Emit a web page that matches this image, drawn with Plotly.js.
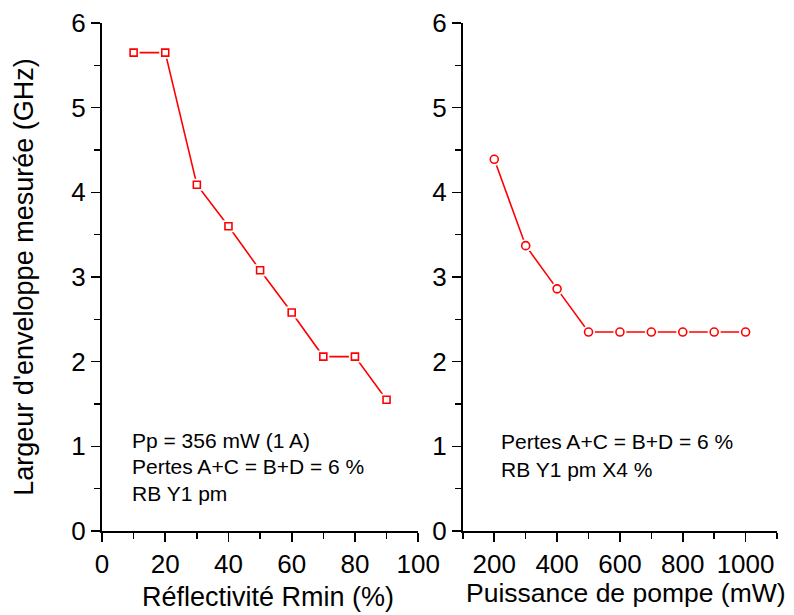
<!DOCTYPE html>
<html><head><meta charset="utf-8">
<script src="https://cdn.plot.ly/plotly-3.0.1.min.js"></script>
<style>body{margin:0;background:#fff}#c{width:794px;height:615px}</style>
</head><body><div id="c"></div>
<script>
const reflectivite = [10, 20, 30, 40, 50, 60, 70, 80, 90];
const largeurR = [5.65, 5.65, 4.09, 3.60, 3.08, 2.58, 2.06, 2.06, 1.55];
const puissance = [200, 300, 400, 500, 600, 700, 800, 900, 1000];
const largeurP = [4.39, 3.37, 2.86, 2.35, 2.35, 2.35, 2.35, 2.35, 2.35];
const xTicksLeft = [0, 20, 40, 60, 80, 100];
const xTicksRight = [200, 400, 600, 800, 1000];
const yTicks = [0, 1, 2, 3, 4, 5, 6];

const red = '#ff0000';
const F = 'Arial, Liberation Sans, sans-serif';

const traces = [
  {x: reflectivite, y: largeurR, mode: 'lines', line: {color: red, width: 1.6}, xaxis: 'x', yaxis: 'y', hoverinfo: 'skip'},
  {x: reflectivite, y: largeurR, mode: 'markers', marker: {symbol: 'square', size: 12, color: '#fff', line: {width: 0}}, xaxis: 'x', yaxis: 'y'},
  {x: reflectivite, y: largeurR, mode: 'markers', marker: {symbol: 'square-open', size: 7, color: red, line: {width: 1.6, color: red}}, xaxis: 'x', yaxis: 'y'},
  {x: puissance, y: largeurP, mode: 'lines', line: {color: red, width: 1.6}, xaxis: 'x2', yaxis: 'y2', hoverinfo: 'skip'},
  {x: puissance, y: largeurP, mode: 'markers', marker: {symbol: 'circle', size: 13, color: '#fff', line: {width: 0}}, xaxis: 'x2', yaxis: 'y2'},
  {x: puissance, y: largeurP, mode: 'markers', marker: {symbol: 'circle-open', size: 8, color: red, line: {width: 1.6, color: red}}, xaxis: 'x2', yaxis: 'y2'}
];

const axBase = {
  showgrid: false, zeroline: false, showline: true, linecolor: '#000', linewidth: 2,
  ticks: 'outside', ticklen: 9, tickwidth: 1.6, tickcolor: '#000',
  tickfont: {family: F, size: 26, color: '#000'}, mirror: false
};

const layout = {
  width: 794, height: 615,
  margin: {l: 102, r: 17, t: 23, b: 84},
  paper_bgcolor: '#fff', plot_bgcolor: '#fff',
  showlegend: false,
  font: {family: F, color: '#000'},
  xaxis: Object.assign({}, axBase, {
    domain: [0, 0.4684], range: [0, 100], tickvals: xTicksLeft, anchor: 'y',
    minor: {dtick: 10, tick0: 0, ticklen: 6, tickwidth: 1.6, tickcolor: '#000', ticks: 'outside'}
  }),
  yaxis: Object.assign({}, axBase, {
    domain: [0, 1], range: [0, 6], tickvals: yTicks, anchor: 'x',
    minor: {dtick: 0.5, tick0: 0, ticklen: 6, tickwidth: 1.6, tickcolor: '#000', ticks: 'outside'},
    title: {text: "Largeur d'enveloppe mesurée (GHz)", font: {family: F, size: 27, color: '#000'}, standoff: 30}
  }),
  xaxis2: Object.assign({}, axBase, {
    domain: [0.5346, 1], range: [100, 1100], tickvals: xTicksRight, anchor: 'y2',
    minor: {dtick: 100, tick0: 100, ticklen: 6, tickwidth: 1.6, tickcolor: '#000', ticks: 'outside'}
  }),
  yaxis2: Object.assign({}, axBase, {
    domain: [0, 1], range: [0, 6], tickvals: yTicks, anchor: 'x2',
    minor: {dtick: 0.5, tick0: 0, ticklen: 6, tickwidth: 1.6, tickcolor: '#000', ticks: 'outside'}
  }),
  annotations: [
    {xref: 'paper', yref: 'paper', x: 0.246, y: -0.13, xanchor: 'center', yanchor: 'middle', showarrow: false,
     text: 'Réflectivité Rmin (%)', font: {family: F, size: 27, color: '#000'}},
    {xref: 'paper', yref: 'paper', x: 0.777, y: -0.123, xanchor: 'center', yanchor: 'middle', showarrow: false,
     text: 'Puissance de pompe (mW)', font: {family: F, size: 26.5, color: '#000'}},
    {xref: 'x', yref: 'y', x: 9, y: 1.07, xanchor: 'left', yanchor: 'middle', align: 'left', showarrow: false,
     text: 'Pp = 356 mW (1 A)', font: {family: F, size: 21, color: '#000'}},
    {xref: 'x', yref: 'y', x: 9, y: 0.76, xanchor: 'left', yanchor: 'middle', align: 'left', showarrow: false,
     text: 'Pertes A+C = B+D = 6 %', font: {family: F, size: 21, color: '#000'}},
    {xref: 'x', yref: 'y', x: 9, y: 0.44, xanchor: 'left', yanchor: 'middle', align: 'left', showarrow: false,
     text: 'RB Y1 pm', font: {family: F, size: 21, color: '#000'}},
    {xref: 'x2', yref: 'y2', x: 215, y: 1.06, xanchor: 'left', yanchor: 'middle', align: 'left', showarrow: false,
     text: 'Pertes A+C = B+D = 6 %', font: {family: F, size: 21, color: '#000'}},
    {xref: 'x2', yref: 'y2', x: 215, y: 0.73, xanchor: 'left', yanchor: 'middle', align: 'left', showarrow: false,
     text: 'RB Y1 pm X4 %', font: {family: F, size: 21, color: '#000'}}
  ]
};

Plotly.newPlot('c', traces, layout, {displayModeBar: false, staticPlot: true});
</script>
</body></html>
